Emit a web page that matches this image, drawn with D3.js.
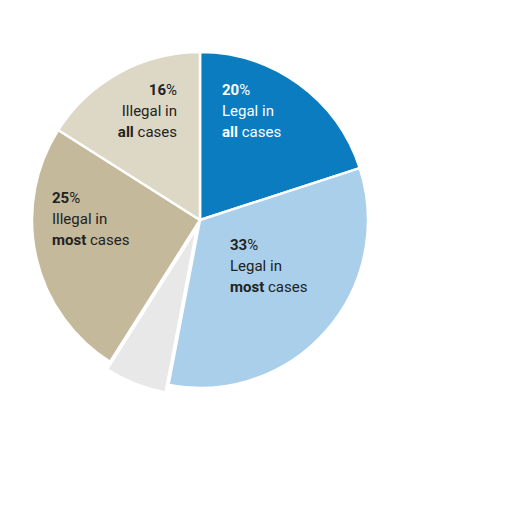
<!DOCTYPE html>
<html>
<head>
<meta charset="utf-8">
<script src="https://cdn.jsdelivr.net/npm/d3@7"></script>
<style>
  body { margin: 0; background: #fff; }
  text { font-family: "Roboto", "Noto Sans", sans-serif; font-size: 15px; }
</style>
</head>
<body>
<svg id="chart" width="512" height="512"></svg>
<script>
// slices clockwise from 12 o'clock
var categories = ["Legal in all cases", "Legal in most cases", "Don't know", "Illegal in most cases", "Illegal in all cases"];
var shares = [20, 33, 6, 25, 16];
var colors = ["#0a7cbf", "#a9cfea", "#e8e8e8", "#c4b99b", "#ddd8c5"];

// label lines: [prefix, bold word, suffix]
var labels = [
  { pct: "20%", lines: [["Legal in", "", ""], ["", "all", " cases"]], anchor: "start", dx: 22, dy: -125, fill: "#fff" },
  { pct: "33%", lines: [["Legal in", "", ""], ["", "most", " cases"]], anchor: "start", dx: 30, dy: 30, fill: "#222" },
  null,
  { pct: "25%", lines: [["Illegal in", "", ""], ["", "most", " cases"]], anchor: "start", dx: -148, dy: -17, fill: "#222" },
  { pct: "16%", lines: [["Illegal in", "", ""], ["", "all", " cases"]], anchor: "end", dx: -23, dy: -125, fill: "#222" }
];

var cx = 200, cy = 220, r = 168;
var svg = d3.select("#chart");
var g = svg.append("g").attr("transform", "translate(" + cx + "," + cy + ")");

var pie = d3.pie().sort(null).value(function(d) { return d; });
var arc = d3.arc().innerRadius(0).outerRadius(r);
var arcs = pie(shares);

g.selectAll("path")
  .data(arcs)
  .enter()
  .append("path")
    .attr("d", arc)
    .attr("fill", function(d, i) { return colors[i]; })
    .attr("stroke", "#fff")
    .attr("stroke-width", 2.5)
    .attr("transform", function(d, i) {
      if (i !== 2) return null;
      // pull the small slice out a little
      var a = (d.startAngle + d.endAngle) / 2;
      return "translate(" + (Math.sin(a) * 8) + "," + (-Math.cos(a) * 8) + ")";
    });

labels.forEach(function(l) {
  if (!l) return;
  var t = g.append("text")
    .attr("text-anchor", l.anchor)
    .attr("fill", l.fill)
    .attr("x", l.dx)
    .attr("y", l.dy);
  t.append("tspan").attr("x", l.dx).attr("font-weight", "bold").text(l.pct.replace("%", ""))
   .append("tspan").attr("font-weight", "normal").text("%");
  l.lines.forEach(function(line, j) {
    var ln = g.append("text")
      .attr("text-anchor", l.anchor)
      .attr("fill", l.fill)
      .attr("x", l.dx)
      .attr("y", l.dy + 21 * (j + 1));
    if (line[0]) ln.append("tspan").text(line[0]);
    if (line[1]) ln.append("tspan").attr("font-weight", "bold").text(line[1]);
    if (line[2]) ln.append("tspan").text(line[2]);
  });
});
</script>
</body>
</html>
